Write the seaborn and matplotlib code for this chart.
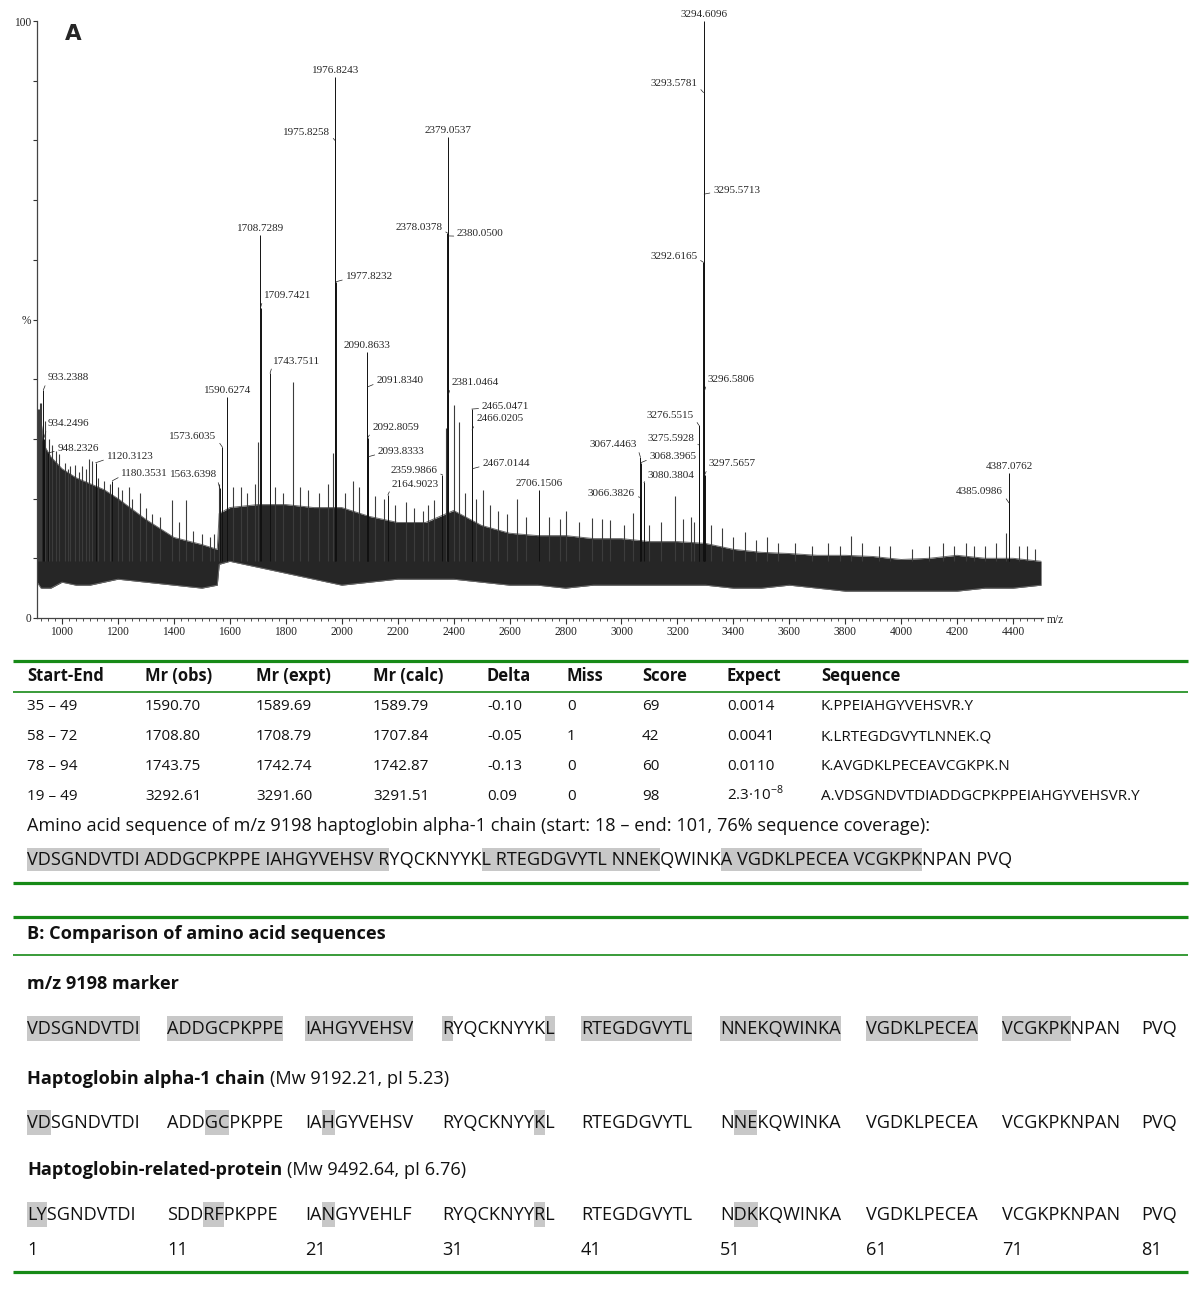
import matplotlib
matplotlib.use("Agg")
import matplotlib.pyplot as plt
import seaborn as sns
from matplotlib.patches import Rectangle
from matplotlib.lines import Line2D
from matplotlib.font_manager import FontProperties
from matplotlib.ticker import MultipleLocator, FixedLocator, FixedFormatter

# ---------------- spectrum data (m/z, relative intensity %) ----------------
band_mz = [911, 925, 935, 960, 1000, 1050, 1100, 1150, 1200, 1300, 1400, 1500, 1555,
           1562, 1600, 1700, 1800, 1900, 2000, 2100, 2200, 2300, 2400, 2500, 2600,
           2700, 2800, 2900, 3000, 3100, 3200, 3300, 3400, 3500, 3600, 3700, 3800,
           3900, 4000, 4100, 4200, 4300, 4400, 4500]
band_low = [6, 5, 5, 5, 6, 5.5, 5.5, 6, 6.5, 6, 5.5, 5, 5.5,
            9, 9.5, 8.5, 7.5, 6.5, 5.5, 6, 6.5, 6.5, 6.5, 6, 5.5,
            5.5, 5, 5.5, 5.5, 5.5, 5.5, 5.5, 5, 5, 5.5, 5, 4.5,
            4.5, 4.5, 4.5, 4.5, 5, 5, 5.5]
band_high = [31, 33, 29, 27, 25, 23.5, 22.5, 21.5, 20, 16.5, 13.5, 12.3, 11.5,
             17.5, 18.5, 19, 19, 18.5, 18.5, 17, 16, 16, 18, 15.5, 14.2,
             13.8, 13.8, 13.3, 13.3, 12.8, 12.8, 12.5, 11.5, 11, 10.8, 10.5, 10.5,
             10.3, 9.8, 10, 10.5, 10, 10, 9.5]

spike_mz = [915, 918, 920, 926, 940, 955, 965, 980, 990, 1010, 1020, 1030, 1046, 1060,
            1070, 1085, 1097, 1107, 1130, 1150, 1170, 1200, 1215, 1240, 1250, 1279,
            1300, 1320, 1350, 1393, 1420, 1443, 1470, 1500, 1530, 1545, 1560, 1610,
            1640, 1660, 1690, 1700, 1760, 1790, 1825, 1850, 1880, 1920, 1950, 1968,
            2010, 2040, 2060, 2120, 2150, 2190, 2230, 2260, 2290, 2310, 2330, 2371,
            2400, 2418, 2440, 2480, 2504, 2530, 2560, 2590, 2625, 2660, 2740, 2780,
            2800, 2850, 2895, 2930, 2960, 3010, 3040, 3100, 3140, 3190, 3220, 3250,
            3260, 3320, 3360, 3400, 3440, 3480, 3520, 3560, 3620, 3680, 3740, 3780,
            3822, 3860, 3920, 3960, 4040, 4100, 4150, 4190, 4230, 4260, 4300, 4340,
            4375, 4420, 4450, 4480]
spike_pct = [35, 35, 36, 36, 33, 30, 29, 28, 27.5, 26, 25, 25.5, 25.7, 24.5,
             25.5, 25, 26.6, 26.3, 23.5, 23, 22.5, 22, 21.5, 22, 20, 21,
             18.5, 17.5, 17, 19.8, 16, 19.7, 14.5, 14, 13.5, 14, 22.5, 22,
             22, 21, 22.5, 29.5, 22, 21, 39.5, 22, 21.5, 21, 22.5, 27.6,
             21, 23, 22, 20.5, 20, 19, 19.5, 18.5, 18, 19, 19.8, 31.8,
             35.7, 32.8, 21, 20, 21.4, 19, 18, 17.5, 20, 17, 17, 16.5,
             18, 16, 16.7, 16.5, 16.4, 15.5, 17.6, 15.5, 16, 20.4, 16.5, 17,
             16, 15.5, 15, 13.5, 14.4, 13, 13.5, 12.5, 12.5, 12, 12.5, 12,
             13.7, 12.5, 12, 12, 11.5, 12, 12.5, 12, 12.5, 12, 12, 12.5,
             14.2, 12, 12, 11.5]

peak_mz = [933.2388, 934.2496, 948.2326, 1120.3123, 1180.3531, 1563.6398, 1573.6035,
           1590.6274, 1708.7289, 1709.7421, 1743.7511, 1975.8258, 1976.8243, 1977.8232,
           2090.8633, 2091.8340, 2092.8059, 2093.8333, 2164.9023, 2359.9866, 2378.0378,
           2379.0537, 2380.0500, 2381.0464, 2465.0471, 2466.0205, 2467.0144, 2706.1506,
           3066.3826, 3067.4463, 3068.3965, 3080.3804, 3275.5928, 3276.5515, 3292.6165,
           3293.5781, 3294.6096, 3295.5713, 3296.5806, 3297.5657, 4385.0986, 4387.0762]
peak_pct = [38.2, 30.0, 27.6, 26.0, 23.0, 21.8, 28.6,
            37.0, 64.2, 52.0, 41.0, 80.0, 90.6, 56.3,
            44.6, 38.7, 30.2, 27.0, 20.6, 24.0, 64.5,
            80.6, 64.0, 37.4, 35.0, 31.5, 25.0, 21.4,
            20.2, 27.0, 26.0, 22.7, 29.0, 32.3, 59.6,
            88.0, 100.0, 71.0, 38.0, 24.0, 19.3, 24.3]

# label placement: pixel offset of label from peak top, and alignment (c = centred above)
label_dx = [4, 4, 10, 11, 9, -3, -6, 0, 0, 3, 3, -5, 0, 10,
            0, 9, 5, 10, 4, -5, -5, 0, 9, 3, 10, 4, 10, 0,
            -5, -3, 9, 4, -4, -5, -6, -6, 0, 9, 3, 4, -6, 0]
label_dy = [12, 15, 5, 6, 7, 13, 11, 0, 0, 12, 12, 8, 0, 5,
            0, 6, 10, 5, 11, 4, 5, 0, 2, 12, 3, 11, 5, 0,
            4, 12, 6, 7, 6, 10, 6, 9, 0, 4, 12, 11, 11, 0]
label_ha = ['l', 'l', 'l', 'l', 'l', 'r', 'r', 'c', 'c', 'l', 'l', 'r', 'c', 'l',
            'c', 'l', 'l', 'l', 'l', 'r', 'r', 'c', 'l', 'l', 'l', 'l', 'l', 'c',
            'r', 'r', 'l', 'l', 'r', 'r', 'r', 'r', 'c', 'l', 'l', 'l', 'r', 'c']

# ---------------- table A data ----------------
col_headers = ["Start-End", "Mr (obs)", "Mr (expt)", "Mr (calc)", "Delta", "Miss",
               "Score", "Expect", "Sequence"]
start_end = ["35 – 49", "58 – 72", "78 – 94", "19 – 49"]
mr_obs = ["1590.70", "1708.80", "1743.75", "3292.61"]
mr_expt = ["1589.69", "1708.79", "1742.74", "3291.60"]
mr_calc = ["1589.79", "1707.84", "1742.87", "3291.51"]
delta = ["-0.10", "-0.05", "-0.13", "0.09"]
miss = ["0", "1", "0", "0"]
score = ["69", "42", "60", "98"]
expect = ["0.0014", "0.0041", "0.0110", r"2.3·10$^{-8}$"]
peptide = ["K.PPEIAHGYVEHSVR.Y", "K.LRTEGDGVYTLNNEK.Q", "K.AVGDKLPECEAVCGKPK.N",
           "A.VDSGNDVTDIADDGCPKPPEIAHGYVEHSVR.Y"]
amino_caption = ("Amino acid sequence of m/z 9198 haptoglobin alpha-1 chain "
                 "(start: 18 – end: 101, 76% sequence coverage):")
coverage_residues = [(1, 31), (40, 54), (60, 76)]

# ---------------- part B data ----------------
title_b = "B: Comparison of amino acid sequences"
marker_blocks = ["VDSGNDVTDI", "ADDGCPKPPE", "IAHGYVEHSV", "RYQCKNYYKL", "RTEGDGVYTL",
                 "NNEKQWINKA", "VGDKLPECEA", "VCGKPKNPAN", "PVQ"]
hp_blocks = ["VDSGNDVTDI", "ADDGCPKPPE", "IAHGYVEHSV", "RYQCKNYYKL", "RTEGDGVYTL",
             "NNEKQWINKA", "VGDKLPECEA", "VCGKPKNPAN", "PVQ"]
hrp_blocks = ["LYSGNDVTDI", "SDDRFPKPPE", "IANGYVEHLF", "RYQCKNYYRL", "RTEGDGVYTL",
              "NDKKQWINKA", "VGDKLPECEA", "VCGKPKNPAN", "PVQ"]
marker_hl = [[(0, 10)], [(0, 10)], [(0, 10)], [(0, 1), (9, 10)], [(0, 10)], [(0, 10)],
             [(0, 10)], [(0, 6)], []]
hp_hl = [[(0, 2)], [(3, 5)], [(2, 3)], [(8, 9)], [], [(1, 3)], [], [], []]
hrp_hl = [[(0, 2)], [(3, 5)], [(2, 3)], [(8, 9)], [], [(1, 3)], [], [], []]
block_start = ["1", "11", "21", "31", "41", "51", "61", "71", "81"]
row_names = ["m/z 9198 marker", "Haptoglobin alpha-1 chain", "Haptoglobin-related-protein"]
row_notes = ["", "(Mw 9192.21, pI 5.23)", "(Mw 9492.64, pI 6.76)"]

# ---------------- style ----------------
sns.set_theme(style="white")
SANS = ['Open Sans', 'DejaVu Sans']
SERIF = ['Liberation Serif', 'DejaVu Serif']
plt.rcParams['font.family'] = SANS
plt.rcParams['mathtext.fontset'] = 'custom'
plt.rcParams['mathtext.rm'] = 'Open Sans'
GREEN = '#178a17'
HL = '#c8c8c8'
LBL = 8.0
ROW = 11.0
HEAD = 11.9
BIG = 13.1
STICK_BASE = 9.5

W, H = 1200, 1289
fig = plt.figure(figsize=(W / 100, H / 100), dpi=100)
fig.patch.set_facecolor('white')


def fx(x):
    return x / W


def fy(y):
    return 1 - y / H


# ---------------- spectrum ----------------
ax = fig.add_axes([fx(37), fy(618), (1043 - 37) / W, (618 - 21) / H])
ax.set_facecolor('white')
ax.fill_between(band_mz, band_low, band_high, color='#262626', lw=0, zorder=2)
sns.lineplot(x=band_mz, y=band_high, ax=ax, color='#6a6a6a', lw=0.7, zorder=2.5)
sns.lineplot(x=band_mz, y=band_low, ax=ax, color='#6a6a6a', lw=0.7, zorder=2.5)
ax.vlines(spike_mz, STICK_BASE, spike_pct, color='#3c3c3c', lw=0.8, zorder=3)
ax.vlines(peak_mz, STICK_BASE, peak_pct, color='#111111', lw=0.7, zorder=3)
ax.set_xlim(910.6, 4507)
ax.set_ylim(0, 100)

for mz, pct, dx, dy, ha in zip(peak_mz, peak_pct, label_dx, label_dy, label_ha):
    lab = f"{mz:.4f}"
    if ha == 'c':
        ax.annotate(lab, xy=(mz, pct), xytext=(0, 1.5), textcoords='offset points',
                    ha='center', va='bottom', fontsize=LBL, family=SERIF,
                    annotation_clip=False, zorder=5)
    else:
        ax.annotate(lab, xy=(mz, pct), xytext=(dx * 0.72, dy * 0.72),
                    textcoords='offset points',
                    ha='left' if ha == 'l' else 'right', va='center',
                    fontsize=LBL, family=SERIF, annotation_clip=False, zorder=5,
                    arrowprops=dict(arrowstyle='-', lw=0.5, color='#222222',
                                    shrinkA=0, shrinkB=0,
                                    relpos=(0 if ha == 'l' else 1, 0.25)))

sns.despine(ax=ax)
for s in ['left', 'bottom']:
    ax.spines[s].set_color('#444444')
    ax.spines[s].set_linewidth(0.9)
ax.xaxis.set_major_locator(MultipleLocator(200))
ax.xaxis.set_minor_locator(MultipleLocator(25))
ax.yaxis.set_major_locator(FixedLocator(list(range(0, 101, 10))))
ax.yaxis.set_major_formatter(FixedFormatter(['0', '', '', '', '', '%', '', '', '', '', '100']))
ax.tick_params(axis='x', which='major', length=4, width=0.8, direction='out',
               colors='#333333', labelsize=LBL + 0.3, pad=1.5, bottom=True)
ax.tick_params(axis='x', which='minor', length=2.2, width=0.6, direction='out',
               colors='#333333', bottom=True)
ax.tick_params(axis='y', which='major', length=3, width=0.8, direction='out',
               colors='#333333', labelsize=LBL + 0.3, pad=1, left=True)
for t in ax.get_xticklabels() + ax.get_yticklabels():
    t.set_fontfamily(SERIF)
    t.set_color('#222222')
ax.grid(False)
fig.text(fx(1047), fy(620), "m/z", fontsize=LBL + 0.3, family=SERIF, va='center',
         ha='left', color='#222222')
fig.text(fx(65), fy(34), "A", fontsize=15.5, fontweight='bold', family=['DejaVu Sans'],
         va='center', ha='left')

# ---------------- helpers for text layout ----------------
renderer = fig.canvas.get_renderer()


def text_w(s, fp):
    w, h, d = renderer.get_text_width_height_descent(s, fp, ismath=False)
    return w


def char_off(s, i, fp):
    if i == 0:
        return 0.0
    return text_w(s[:i] + "H", fp) - text_w("H", fp)


def put(x, yc, s, size, weight='normal', **kw):
    # place text so that cap height is centred on yc (pixel coords from top)
    base = yc + 0.357 * size * 100 / 72
    return fig.text(fx(x), fy(base), s, fontsize=size, fontweight=weight,
                    va='baseline', ha='left', color='#111111', **kw)


def hline(y, lw):
    fig.add_artist(Line2D([fx(13), fx(1188)], [fy(y), fy(y)], color=GREEN, lw=lw,
                          solid_capstyle='butt'))


def hbox(x0, x1, yc, h):
    fig.add_artist(Rectangle((fx(x0), fy(yc + h / 2)), (x1 - x0) / W, h / H,
                             transform=fig.transFigure, facecolor=HL, edgecolor='none',
                             zorder=0))


# ---------------- table A ----------------
hline(661, 2.3)
hline(692, 1.2)
hline(883, 2.3)
col_x = [27, 145, 256, 373, 487, 567, 642, 727, 821]
for x, h in zip(col_x, col_headers):
    put(x, 675, h, HEAD, 'bold')
columns = [start_end, mr_obs, mr_expt, mr_calc, delta, miss, score, expect, peptide]
row_y = [705, 735, 765, 795]
for x, col in zip(col_x, columns):
    for y, v in zip(row_y, col):
        put(x, y, v, ROW)

put(27, 825, amino_caption, BIG)
fp_big = FontProperties(family=SANS, size=BIG)
seq_line = " ".join(hp_blocks)
for a, b in coverage_residues:
    i0 = (a - 1) + (a - 1) // 10
    i1 = (b - 1) + (b - 1) // 10 + 1
    hbox(27 + char_off(seq_line, i0, fp_big), 27 + char_off(seq_line, i1, fp_big), 859, 23)
put(27, 859, seq_line, BIG)

# ---------------- part B ----------------
hline(917, 2.3)
hline(955, 1.2)
hline(1272, 2.3)
put(27, 933, title_b, BIG, 'bold')
block_x = [27, 167, 305, 442, 581, 720, 866, 1002, 1141]
name_y = [983, 1078, 1169]
seq_y = [1028, 1122, 1214]
fp_bold = FontProperties(family=SANS, size=BIG, weight='bold')
for name, note, ny in zip(row_names, row_notes, name_y):
    put(27, ny, name, BIG, 'bold')
    if note:
        put(27 + text_w(name + " H", fp_bold) - text_w("H", fp_bold), ny, note, BIG)
for blocks, hls, sy in zip([marker_blocks, hp_blocks, hrp_blocks],
                           [marker_hl, hp_hl, hrp_hl], seq_y):
    for x, blk, hl in zip(block_x, blocks, hls):
        for a, b in hl:
            hbox(x + char_off(blk, a, fp_big), x + char_off(blk, b, fp_big), sy, 25)
        put(x, sy, blk, BIG)
for x, n in zip(block_x, block_start):
    put(x, 1249, n, BIG)

fig.savefig("out.png", dpi=100, facecolor='white')
